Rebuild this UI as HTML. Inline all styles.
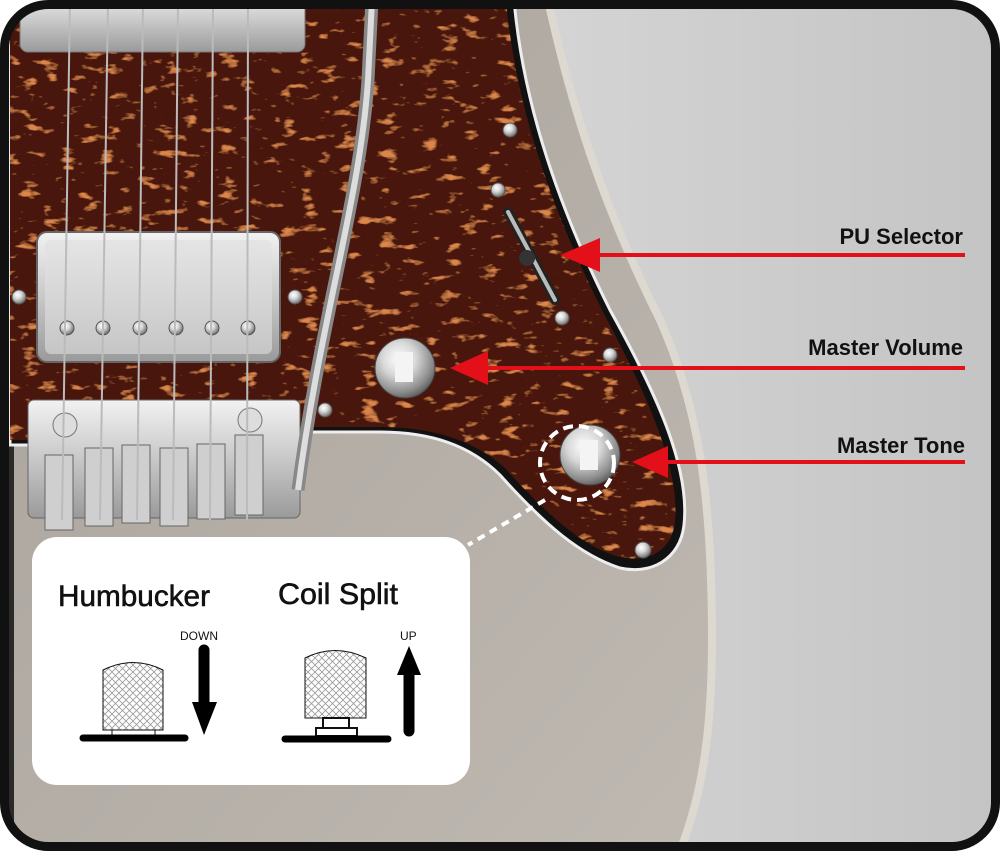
<!DOCTYPE html>
<html><head><meta charset="utf-8"><style>
html,body{margin:0;padding:0;background:#fff}
svg{display:block}
text{font-family:"Liberation Sans",sans-serif}
</style></head><body>
<svg width="1000" height="851" viewBox="0 0 1000 851" xmlns="http://www.w3.org/2000/svg">
<defs>
<linearGradient id="bg" x1="0" y1="0" x2="1" y2="0">
<stop offset="0" stop-color="#b8b8b8"/><stop offset="0.5" stop-color="#d6d6d6"/><stop offset="1" stop-color="#c4c4c4"/>
</linearGradient>
<linearGradient id="body" x1="0" y1="0" x2="1" y2="1">
<stop offset="0" stop-color="#a8a29b"/><stop offset="1" stop-color="#bfb9b2"/>
</linearGradient>
<filter id="tort" x="0" y="0" width="100%" height="100%">
<feTurbulence type="fractalNoise" baseFrequency="0.05 0.12" numOctaves="3" seed="4" result="n"/>
<feColorMatrix in="n" type="matrix" values="0 0 0 0 0.72  0 0 0 0 0.24  0 0 0 0 0.07  6 0 0 0 -3.7" result="o"/>
<feFlood flood-color="#4a160b" result="b"/>
<feComposite in="o" in2="b" operator="over" result="c"/>
<feComposite in="c" in2="SourceGraphic" operator="in"/>
</filter>
<radialGradient id="chrome" cx="0.4" cy="0.35" r="0.7">
<stop offset="0" stop-color="#ffffff"/><stop offset="0.4" stop-color="#d8d8d8"/><stop offset="0.8" stop-color="#8a8a8a"/><stop offset="1" stop-color="#555"/>
</radialGradient>
<linearGradient id="met" x1="0" y1="0" x2="0" y2="1">
<stop offset="0" stop-color="#f2f2f2"/><stop offset="0.5" stop-color="#c8c8c8"/><stop offset="1" stop-color="#9a9a9a"/>
</linearGradient>
<pattern id="hatch" width="7" height="7" patternUnits="userSpaceOnUse">
<path d="M0 0L7 7M7 0L0 7" stroke="#999" stroke-width="0.8"/>
</pattern>
<clipPath id="inner"><rect x="5" y="5" width="990" height="841" rx="42"/></clipPath>
</defs>

<g clip-path="url(#inner)">
<rect width="1000" height="851" fill="url(#bg)"/>
<path d="M0 0 L548 0 C570 100 600 200 660 320 C700 410 712 500 712 640 C712 740 700 800 680 851 L0 851 Z" fill="url(#body)"/>
<path d="M548 0 C570 100 600 200 660 320 C700 410 712 500 712 640 C712 740 700 800 680 851" fill="none" stroke="#ddd8d0" stroke-width="8"/>
<rect x="0" y="0" width="14" height="851" fill="#2a2a2a"/>
<path d="M10 0 L514 0 C522 90 550 190 610 310 C660 400 690 470 684 525 C680 560 650 575 620 568 C580 555 545 525 500 475 C470 445 430 432 380 432 L300 432 L300 445 L10 445 Z" fill="#111" stroke="#eee" stroke-width="3"/>
<path d="M10 0 L506 0 C514 90 542 190 602 310 C650 400 680 470 675 522 C671 552 648 563 620 557 C585 548 550 518 505 468 C474 440 432 427 380 427 L300 427 L300 440 L10 440 Z" fill="#4a160b" filter="url(#tort)"/>
<rect x="20" y="-10" width="285" height="62" rx="8" fill="url(#met)" stroke="#777"/>
<rect x="37" y="232" width="243" height="130" rx="10" fill="url(#met)" stroke="#666" stroke-width="2"/>
<rect x="45" y="240" width="227" height="114" rx="6" fill="#e0e0e0" opacity="0.6"/>
<g fill="url(#chrome)" stroke="#555">
<circle cx="67" cy="328" r="7"/><circle cx="103" cy="328" r="7"/><circle cx="140" cy="328" r="7"/><circle cx="176" cy="328" r="7"/><circle cx="212" cy="328" r="7"/><circle cx="248" cy="328" r="7"/>
<circle cx="19" cy="297" r="7"/><circle cx="295" cy="297" r="7"/><circle cx="325" cy="410" r="7"/>
<circle cx="510" cy="130" r="7"/><circle cx="498" cy="190" r="7"/><circle cx="562" cy="318" r="7"/><circle cx="610" cy="355" r="7"/><circle cx="643" cy="550" r="8"/>
</g>
<rect x="28" y="400" width="272" height="118" rx="6" fill="url(#met)" stroke="#666"/>
<g fill="#cfcfcf" stroke="#666">
<rect x="45" y="455" width="28" height="75"/><rect x="85" y="448" width="28" height="78"/><rect x="122" y="445" width="28" height="78"/><rect x="160" y="448" width="28" height="78"/><rect x="197" y="444" width="28" height="75"/><rect x="235" y="435" width="28" height="80"/>
</g>
<circle cx="65" cy="425" r="12" fill="#ddd" stroke="#777"/><circle cx="250" cy="420" r="12" fill="#ddd" stroke="#777"/>
<g stroke="#bbb" stroke-width="2">
<line x1="70" y1="0" x2="62" y2="520"/><line x1="108" y1="0" x2="100" y2="520"/><line x1="143" y1="0" x2="137" y2="520"/><line x1="178" y1="0" x2="173" y2="520"/><line x1="213" y1="0" x2="210" y2="520"/><line x1="248" y1="0" x2="247" y2="520"/>
</g>
<path d="M372 0 L368 80 C360 200 320 320 298 490" fill="none" stroke="#888" stroke-width="13"/>
<path d="M372 0 L368 80 C360 200 320 320 298 490" fill="none" stroke="#ddd" stroke-width="6"/>
<path d="M508 212 L555 300" stroke="#222" stroke-width="10" stroke-linecap="round"/>
<path d="M508 212 L555 300" stroke="#bbb" stroke-width="4" stroke-linecap="round"/>
<circle cx="527" cy="258" r="8" fill="#333"/>
<circle cx="405" cy="368" r="30" fill="url(#chrome)" stroke="#444"/>
<rect x="395" y="352" width="18" height="30" fill="#f4f4f4"/>
<circle cx="590" cy="455" r="30" fill="url(#chrome)" stroke="#444"/>
<rect x="580" y="440" width="18" height="30" fill="#f4f4f4"/>
<circle cx="577" cy="463" r="37" fill="none" stroke="#fff" stroke-width="4" stroke-dasharray="10 6"/>
<line x1="545" y1="500" x2="468" y2="545" stroke="#fff" stroke-width="4" stroke-dasharray="8 6"/>
</g>
<rect x="4.5" y="4.5" width="991" height="842" rx="44" fill="none" stroke="#111" stroke-width="9"/>

<g fill="#e3101a" stroke="#e3101a">
<line x1="600" y1="255" x2="965" y2="255" stroke-width="4"/><path d="M560 255 L600 238 L600 272 Z" stroke="none"/>
<line x1="485" y1="368" x2="965" y2="368" stroke-width="4"/><path d="M450 368 L488 351 L488 385 Z" stroke="none"/>
<line x1="665" y1="462" x2="965" y2="462" stroke-width="4"/><path d="M632 462 L668 446 L668 478 Z" stroke="none"/>
</g>
<g font-weight="bold" font-size="22" text-anchor="end" fill="#111">
<text x="963" y="244">PU Selector</text>
<text x="963" y="355">Master Volume</text>
<text x="965" y="453">Master Tone</text>
</g>

<rect x="32" y="537" width="438" height="248" rx="25" fill="#fff"/>
<text x="58" y="606" font-size="30" fill="#111" stroke="#111" stroke-width="0.6" textLength="152" lengthAdjust="spacingAndGlyphs">Humbucker</text>
<text x="278" y="604" font-size="30" fill="#111" stroke="#111" stroke-width="0.6" textLength="120" lengthAdjust="spacingAndGlyphs">Coil Split</text>
<text x="180" y="640" font-size="12" fill="#111">DOWN</text>
<text x="400" y="640" font-size="12" fill="#111">UP</text>
<path d="M103 670 Q133 655 163 670 L163 730 L103 730 Z" fill="url(#hatch)" stroke="#111"/>
<rect x="112" y="730" width="43" height="6" fill="#fff" stroke="#111"/>
<line x1="83" y1="738" x2="185" y2="738" stroke="#000" stroke-width="7" stroke-linecap="round"/>
<line x1="204" y1="650" x2="204" y2="705" stroke="#000" stroke-width="11" stroke-linecap="round"/>
<path d="M192 702 L217 702 L204 735 Z" fill="#000"/>
<path d="M305 658 Q335 643 366 658 L366 718 L305 718 Z" fill="url(#hatch)" stroke="#111"/>
<rect x="323" y="718" width="26" height="10" fill="#fff" stroke="#111" stroke-width="2"/>
<rect x="316" y="728" width="41" height="8" fill="#fff" stroke="#111" stroke-width="2"/>
<line x1="285" y1="739" x2="388" y2="739" stroke="#000" stroke-width="7" stroke-linecap="round"/>
<path d="M397 675 L421 675 L409 646 Z" fill="#000"/>
<line x1="409" y1="672" x2="409" y2="731" stroke="#000" stroke-width="11" stroke-linecap="round"/>
</svg>
</body></html>
